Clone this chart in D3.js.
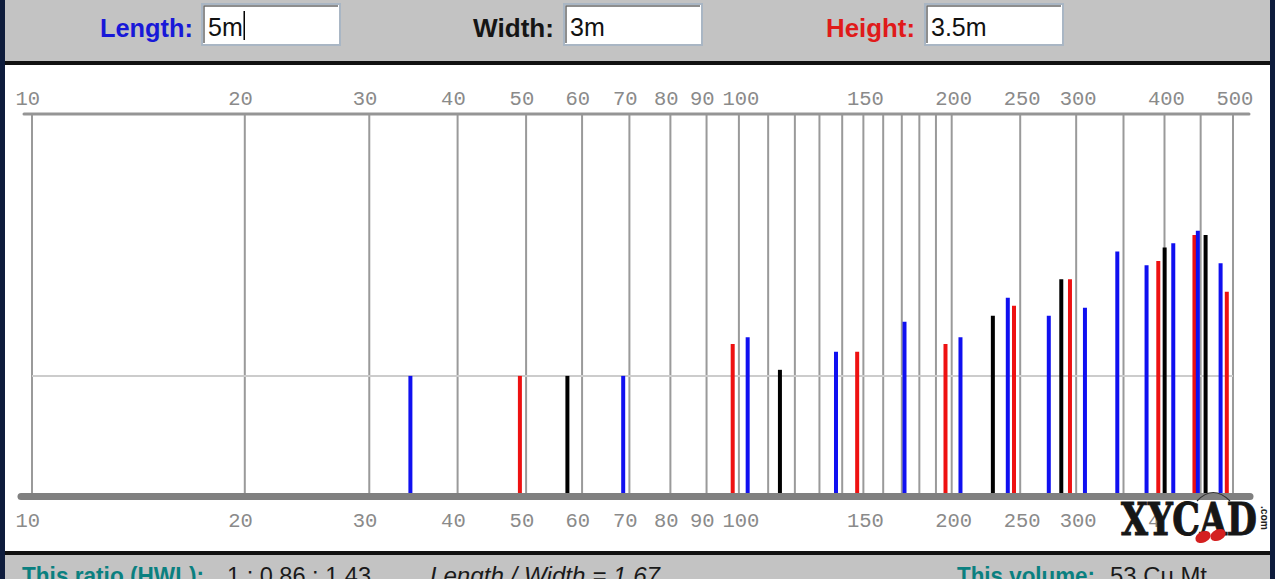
<!DOCTYPE html>
<html>
<head>
<meta charset="utf-8">
<script src="https://cdnjs.cloudflare.com/ajax/libs/d3/7.8.5/d3.min.js"></script>
<style>
  html, body { margin: 0; padding: 0; background: #ffffff; }
  svg { display: block; }
</style>
</head>
<body>
<svg id="chart" width="1275" height="579"></svg>
<script>
// ---- data ----
// grid frequencies (Hz)
const gridFreqs = [10,20,30,40,50,60,70,80,90,100,110,120,130,140,150,160,170,180,190,200,250,300,350,400,450,500];
// labelled frequencies
const tickLabels = [10,20,30,40,50,60,70,80,90,100,150,200,250,300,400,500];
// reference level line
const refLevel = 30.9;
// axial modes along the length (blue)
const lengthFreqs  = [34.3, 68.6, 102.9, 137.2, 171.5, 205.8, 240.1, 274.4, 308.7, 343, 377.3, 411.6, 445.9, 480.2];
const lengthLevels = [30.9, 30.9, 41.1, 37.3, 45.2, 41.1, 51.5, 46.8, 48.9, 63.7, 60.1, 65.9, 69.2, 60.6];
// axial modes along the width (black)
const widthFreqs  = [57.2, 114.3, 228.7, 285.8, 400.2, 457.3];
const widthLevels = [30.9, 32.5, 46.8, 56.4, 64.8, 68.1];
// axial modes along the height (red)
const heightFreqs  = [49, 98, 147, 196, 245, 294, 392, 441, 490];
const heightLevels = [30.9, 39.3, 37.3, 39.3, 49.4, 56.4, 61.2, 68.1, 53.1];

const dims = [
  {label: "Length:", value: "5m",   color: "#1818d8"},
  {label: "Width:",  value: "3m",   color: "#151515"},
  {label: "Height:", value: "3.5m", color: "#e01a1a"}
];

const seriesColors = {length: "#1010f0", width: "#000000", height: "#ee1111"};

// ---- drawing ----
const svg = d3.select("#chart");
const W = 1275, H = 579;

// panels
svg.append("rect").attr("x",0).attr("y",0).attr("width",W).attr("height",62).attr("fill","#c3c3c3");
svg.append("rect").attr("x",0).attr("y",555).attr("width",W).attr("height",H-555).attr("fill","#c3c3c3");
svg.append("rect").attr("x",0).attr("y",61).attr("width",W).attr("height",4).attr("fill","#111111");
svg.append("rect").attr("x",0).attr("y",551).attr("width",W).attr("height",4).attr("fill","#111111");
svg.append("rect").attr("x",0).attr("y",0).attr("width",5).attr("height",H).attr("fill","#0e1c3c");
svg.append("rect").attr("x",1270).attr("y",0).attr("width",5).attr("height",H).attr("fill","#0e1c3c");

// header: labels + input boxes
const labelRight = [193, 554, 915];
const labelWidth = [93, 81, 89];
const boxX = [202, 564, 925];
dims.forEach((d, i) => {
  svg.append("text")
    .attr("x", labelRight[i]).attr("y", 37)
    .attr("text-anchor", "end")
    .attr("font-family", "Liberation Sans, Arial, sans-serif")
    .attr("font-weight", "bold")
    .attr("font-size", 26)
    .attr("textLength", labelWidth[i])
    .attr("lengthAdjust", "spacingAndGlyphs")
    .attr("fill", d.color)
    .text(d.label);
  svg.append("rect")
    .attr("x", boxX[i]).attr("y", 4).attr("width", 138).attr("height", 41)
    .attr("fill", "#ffffff").attr("stroke", "#a9b6c4").attr("stroke-width", 2);
  svg.append("path")
    .attr("d", `M${boxX[i]+2},${43} V${6} H${boxX[i]+136}`)
    .attr("fill", "none").attr("stroke", "#6a6a6a").attr("stroke-width", 1.5);
  const t = svg.append("text")
    .attr("x", boxX[i] + 6).attr("y", 36)
    .attr("font-family", "Liberation Sans, Arial, sans-serif")
    .attr("font-size", 25)
    .attr("fill", "#111111")
    .text(d.value);
  if (i === 0) {
    const bb = t.node().getBBox();
    svg.append("line")
      .attr("x1", bb.x + bb.width + 1.5).attr("x2", bb.x + bb.width + 1.5)
      .attr("y1", 11).attr("y2", 40)
      .attr("stroke", "#000").attr("stroke-width", 1.5);
  }
});

// scales
const x = d3.scaleLog().domain([10, 500]).range([32, 1233]);
const y = d3.scaleLinear().domain([0, 100]).range([493, 114]);

// vertical grid
svg.append("g").selectAll("line").data(gridFreqs).join("line")
  .attr("x1", d => x(d)).attr("x2", d => x(d))
  .attr("y1", y(100)).attr("y2", y(0))
  .attr("stroke", "#9a9a9a").attr("stroke-width", 2);

// reference level line
svg.append("line")
  .attr("x1", x(10)).attr("x2", x(500))
  .attr("y1", y(refLevel)).attr("y2", y(refLevel))
  .attr("stroke", "#cccccc").attr("stroke-width", 2);

// top line
svg.append("line")
  .attr("x1", x(10) - 8).attr("x2", x(500) + 16)
  .attr("y1", y(100)).attr("y2", y(100))
  .attr("stroke", "#959595").attr("stroke-width", 3).attr("stroke-linecap", "round");

// mode bars
function drawSeries(freqs, levels, color) {
  const data = freqs.map((f, i) => ({f, v: levels[i]}));
  svg.append("g").selectAll("line").data(data).join("line")
    .attr("x1", d => x(d.f)).attr("x2", d => x(d.f))
    .attr("y1", d => y(d.v)).attr("y2", y(0))
    .attr("stroke", color).attr("stroke-width", 4);
}
drawSeries(heightFreqs, heightLevels, seriesColors.height);
drawSeries(widthFreqs, widthLevels, seriesColors.width);
drawSeries(lengthFreqs, lengthLevels, seriesColors.length);

// bottom axis bar
svg.append("line")
  .attr("x1", x(10) - 11).attr("x2", x(500) + 17)
  .attr("y1", y(0) + 3.5).attr("y2", y(0) + 3.5)
  .attr("stroke", "#808080").attr("stroke-width", 7).attr("stroke-linecap", "round");

// tick labels, top and bottom
[105, 527].forEach(by => {
  svg.append("g").selectAll("text").data(tickLabels).join("text")
    .attr("x", d => x(d) - 16.5).attr("y", by)
    .attr("font-family", "Liberation Mono, Courier New, monospace")
    .attr("font-size", 20.5)
    .attr("fill", "#8a8a8a")
    .text(d => d);
});

// logo (white backing hides the last bottom labels, as in the reference)
const logo = svg.append("g");
logo.append("rect").attr("x", 1161).attr("y", 503).attr("width", 108).attr("height", 46).attr("fill", "#ffffff");
logo.append("path")
  .attr("d", "M1197,501 Q1213,484 1230,501")
  .attr("fill", "none").attr("stroke", "#333").attr("stroke-width", 1.2);
logo.append("text")
  .attr("x", 1121).attr("y", 535)
  .attr("font-family", "DejaVu Serif, serif")
  .attr("font-weight", "bold")
  .attr("font-size", 44)
  .attr("textLength", 136)
  .attr("lengthAdjust", "spacingAndGlyphs")
  .attr("fill", "#161616")
  .attr("stroke", "#161616").attr("stroke-width", 1)
  .text("XYCAD");
logo.append("ellipse").attr("cx", 1203).attr("cy", 537).attr("rx", 8).attr("ry", 5.5)
  .attr("transform", "rotate(-25 1203 537)").attr("fill", "#d42020");
logo.append("ellipse").attr("cx", 1218).attr("cy", 535).attr("rx", 8).attr("ry", 5.5)
  .attr("transform", "rotate(-25 1218 535)").attr("fill", "#d42020");
logo.append("text")
  .attr("transform", "translate(1261,506) rotate(90)")
  .attr("font-family", "Liberation Sans, Arial, sans-serif")
  .attr("font-weight", "bold")
  .attr("font-size", 11)
  .attr("textLength", 24)
  .attr("lengthAdjust", "spacingAndGlyphs")
  .attr("fill", "#222")
  .text(".com");

// footer
const footer = [
  {x: 22,  text: "This ratio (HWL):", color: "#0a8080", weight: "bold", style: "normal", len: 182},
  {x: 227, text: "1 : 0.86 : 1.43", color: "#1a1a1a", weight: "normal", style: "normal", len: 144},
  {x: 430, text: "Length / Width = 1.67", color: "#1a1a1a", weight: "normal", style: "italic", len: 230},
  {x: 957, text: "This volume:", color: "#0a8080", weight: "bold", style: "normal", len: 138},
  {x: 1110, text: "53 Cu Mt", color: "#1a1a1a", weight: "normal", style: "normal", len: 97}
];
svg.append("g").selectAll("text").data(footer).join("text")
  .attr("x", d => d.x).attr("y", 584)
  .attr("font-family", "Liberation Sans, Arial, sans-serif")
  .attr("font-size", 24)
  .attr("font-weight", d => d.weight)
  .attr("font-style", d => d.style)
  .attr("textLength", d => d.len)
  .attr("lengthAdjust", "spacingAndGlyphs")
  .attr("fill", d => d.color)
  .text(d => d.text);
</script>
</body>
</html>
